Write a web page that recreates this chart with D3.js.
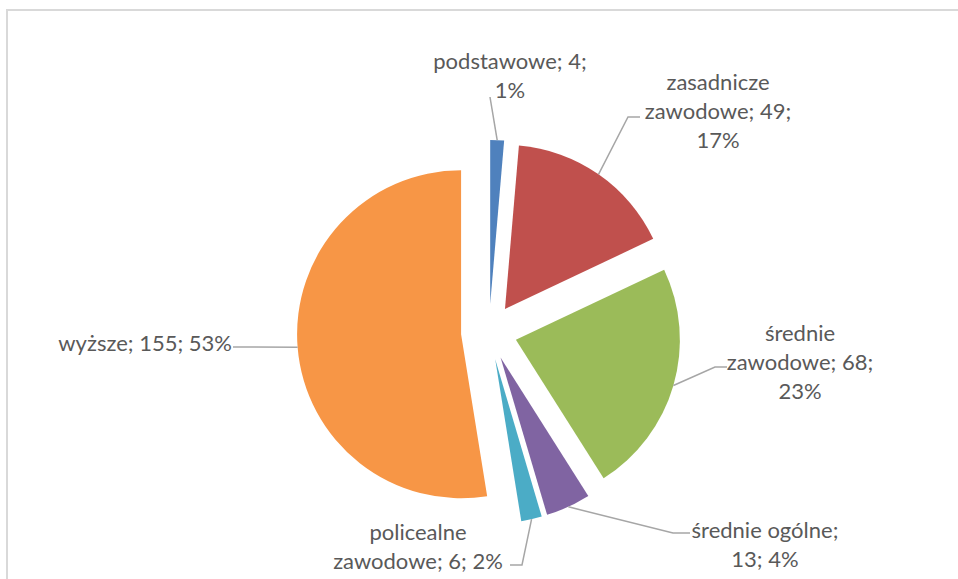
<!DOCTYPE html>
<html>
<head>
<meta charset="utf-8">
<script src="https://cdn.jsdelivr.net/npm/d3@7"></script>
<style>
  html, body { margin: 0; padding: 0; background: #fff; }
  .slice-label { font-family: Lato, "Open Sans", sans-serif; font-size: 22px; fill: #595959; }
</style>
</head>
<body>
<div id="chart"></div>
<script>
// Data
const categories = ["podstawowe", "zasadnicze zawodowe", "średnie zawodowe", "średnie ogólne", "policealne zawodowe", "wyższe"];
const values = [4, 49, 68, 13, 6, 155];
const percentLabels = ["1%", "17%", "23%", "4%", "2%", "53%"];
const labelLines = [
    ["podstawowe; 4;", "1%"],
    ["zasadnicze", "zawodowe; 49;", "17%"],
    ["średnie", "zawodowe; 68;", "23%"],
    ["średnie ogólne;", "13; 4%"],
    ["policealne", "zawodowe; 6; 2%"],
    ["wyższe; 155; 53%"]
];
const colors = ["#4F81BD", "#C0504D", "#9BBB59", "#8064A2", "#4BACC6", "#F79646"];

function PieChart(width, height) {
    const WIDTH = width;
    const HEIGHT = height;
    const CENTER = { x: 489, y: 332 };
    const RADIUS = 164;
    const EXPLODE = 28;
    const LINE_HEIGHT = 29;

    // label placement, relative to the pie centre (block centre, elbow, end of leader)
    const LABEL_LAYOUT = [
        { cx: 21, cy: -256, anchor: "middle", elbow: [1, -235], end: [1, -235] },
        { cx: 229, cy: -221, anchor: "middle", elbow: [139, -215], end: [151, -215] },
        { cx: 311, cy: 30, anchor: "middle", elbow: [226, 35], end: [238, 35] },
        { cx: 276, cy: 213, anchor: "middle", elbow: [184, 201], end: [201, 201] },
        { cx: -71, cy: 215, anchor: "middle", elbow: [33, 233], end: [21, 233] },
        { cx: -257, cy: 11, anchor: "end", elbow: [-256, 15], end: [-256, 15] }
    ];

    this.createChart = function() {
        var svg = d3.create("svg")
            .attr("width", WIDTH)
            .attr("height", HEIGHT)
            .attr("viewBox", [0, 0, WIDTH, HEIGHT]);

        // chart area border
        svg.append("rect")
            .attr("x", 7)
            .attr("y", 10)
            .attr("width", WIDTH + 20)
            .attr("height", HEIGHT + 20)
            .style("fill", "none")
            .style("stroke", "#d9d9d9")
            .style("stroke-width", 2);

        const pie = d3.pie().sort(null).value(d => d);
        const arcs = pie(values);
        const arc = d3.arc().innerRadius(0).outerRadius(RADIUS);

        const g = svg.append("g")
            .attr("transform", `translate(${CENTER.x},${CENTER.y})`);

        const mid = d => (d.startAngle + d.endAngle) / 2;

        // slices, each pulled out along its middle angle
        g.selectAll("path.slice")
            .data(arcs)
            .join("path")
            .attr("class", "slice")
            .attr("d", arc)
            .attr("transform", d => `translate(${EXPLODE * Math.sin(mid(d))},${-EXPLODE * Math.cos(mid(d))})`)
            .style("fill", (d, i) => colors[i]);

        // leader lines
        g.selectAll("polyline.leader")
            .data(arcs)
            .join("polyline")
            .attr("class", "leader")
            .attr("points", (d, i) => {
                const r = RADIUS + EXPLODE;
                const a = mid(d);
                const L = LABEL_LAYOUT[i];
                return [[r * Math.sin(a), -r * Math.cos(a)], L.elbow, L.end].map(p => p.join(",")).join(" ");
            })
            .style("fill", "none")
            .style("stroke", "#a6a6a6")
            .style("stroke-width", 1.5);

        // data labels
        const labels = g.selectAll("text.slice-label")
            .data(arcs)
            .join("text")
            .attr("class", "slice-label")
            .attr("text-anchor", (d, i) => LABEL_LAYOUT[i].anchor);

        labels.each(function(d, i) {
            const L = LABEL_LAYOUT[i];
            const lines = labelLines[i];
            const top = L.cy - (lines.length - 1) * LINE_HEIGHT / 2;
            d3.select(this).selectAll("tspan")
                .data(lines)
                .join("tspan")
                .attr("x", L.cx)
                .attr("y", (t, k) => top + k * LINE_HEIGHT)
                .attr("dy", "0.35em")
                .text(t => t);
        });

        return svg;
    }
}

const chart = new PieChart(958, 579);
document.getElementById("chart").appendChild(chart.createChart().node());
</script>
</body>
</html>
